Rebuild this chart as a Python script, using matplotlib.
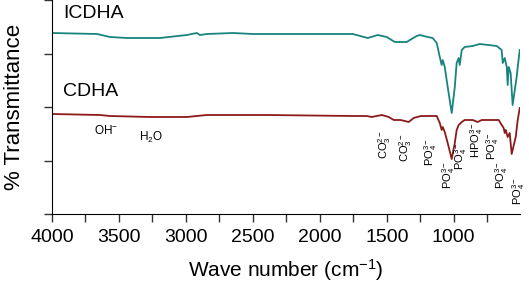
import matplotlib
matplotlib.use("Agg")
import matplotlib.pyplot as plt
from matplotlib.ticker import MultipleLocator

plt.rcParams['font.family'] = ['Liberation Sans', 'DejaVu Sans']
plt.rcParams['mathtext.fontset'] = 'custom'
plt.rcParams['mathtext.rm'] = 'Liberation Sans'
plt.rcParams['mathtext.it'] = 'Liberation Sans:italic'
plt.rcParams['mathtext.bf'] = 'Liberation Sans:bold'

# ICDHA spectrum (wavenumber, transmittance a.u.)
icdha_wn = [4000, 3664, 3567, 3440, 3194, 2993, 2918, 2896, 2843, 2649, 2500, 1754, 1642,
            1567, 1500, 1440, 1351, 1328, 1276, 1254, 1194, 1157, 1127, 1104, 1090, 1082,
            1067, 1045, 1015, 992, 978, 963, 955, 940, 918, 858, 806, 679, 642, 634, 619,
            604, 597, 589, 575, 560, 530, 522, 507]
icdha_t = [181, 180, 177, 176, 176, 179, 181, 179, 180, 181, 180, 180, 176,
           179, 177, 172, 172, 174, 178, 179, 177, 176, 171, 157, 149, 154,
           147, 127, 101, 127, 151, 156, 149, 164, 167, 168, 170, 168, 164, 151, 156,
           147, 129, 147, 141, 109, 137, 147, 164]

# CDHA spectrum
cdha_wn = [4000, 3642, 3567, 3269, 3142, 2993, 2843, 2396, 1754, 1649, 1612, 1537, 1485,
           1448, 1396, 1336, 1299, 1246, 1194, 1157, 1127, 1104, 1090, 1082, 1067, 1045,
           1015, 992, 978, 963, 940, 918, 858, 821, 791, 664, 642, 627, 619, 612, 597,
           582, 567, 537, 522, 507]
cdha_t = [100, 99, 98, 97, 97, 97, 99, 99, 98, 98, 97, 99, 97,
          94, 94, 92, 96, 98, 98, 98, 98, 91, 84, 87, 82, 71,
          55, 71, 84, 89, 92, 94, 94, 92, 94, 94, 89, 86, 81, 84, 77,
          81, 60, 77, 94, 106]

series_names = ["ICDHA", "CDHA"]
x_ticks = [4000, 3500, 3000, 2500, 2000, 1500, 1000]

band_labels = [r"CO$_3^{2-}$", r"CO$_3^{2-}$", r"PO$_4^{3-}$", r"PO$_4^{3-}$", r"PO$_4^{3-}$",
               r"HPO$_4^{3-}$", r"PO$_4^{3-}$", r"PO$_4^{3-}$", r"PO$_4^{3-}$"]
band_pos = [(1515, 69), (1358, 66), (1171, 62), (1038, 39), (945, 58),
            (826, 74), (709, 68), (640, 39), (518, 23)]

fig = plt.figure(figsize=(5.29, 2.94), dpi=100)
ax = fig.add_axes([52/529, 80/294, 468/529, 214/294])

ax.plot(icdha_wn, icdha_t, color='#17847f', lw=1.3)
ax.plot(cdha_wn, cdha_t, color='#8c1a1a', lw=1.3)

ax.set_xlim(4000, 505)
ax.set_ylim(0, 214)
ax.spines['top'].set_visible(False)
ax.spines['right'].set_visible(False)
ax.set_xticks(x_ticks)
ax.set_xticklabels([str(t) for t in x_ticks], fontsize=14)
ax.xaxis.set_minor_locator(MultipleLocator(250))
ax.set_yticks([0, 53.5, 107, 160.5, 214])
ax.set_yticklabels([])
ax.tick_params(axis='both', which='both', direction='out', length=6, width=1, color='#333333')
ax.tick_params(axis='x', pad=5)
ax.set_xlabel(r"Wave number (cm$^{-1}$)", fontsize=15, labelpad=8)
ax.set_ylabel("% Transmittance", fontsize=16, labelpad=10)

ax.text(3918, 200, series_names[0], fontsize=14, ha='left', va='center')
ax.text(3918, 122, series_names[1], fontsize=14, ha='left', va='center')
ax.text(3597, 84, r"OH$^{-}$", fontsize=8.5, ha='center', va='center')
ax.text(3261, 77, r"H$_2$O", fontsize=8.5, ha='center', va='center')

for lab, (xx, yy) in zip(band_labels, band_pos):
    ax.text(xx, yy, lab, fontsize=8, rotation=90, ha='center', va='center')

fig.savefig("out.png", dpi=100)
